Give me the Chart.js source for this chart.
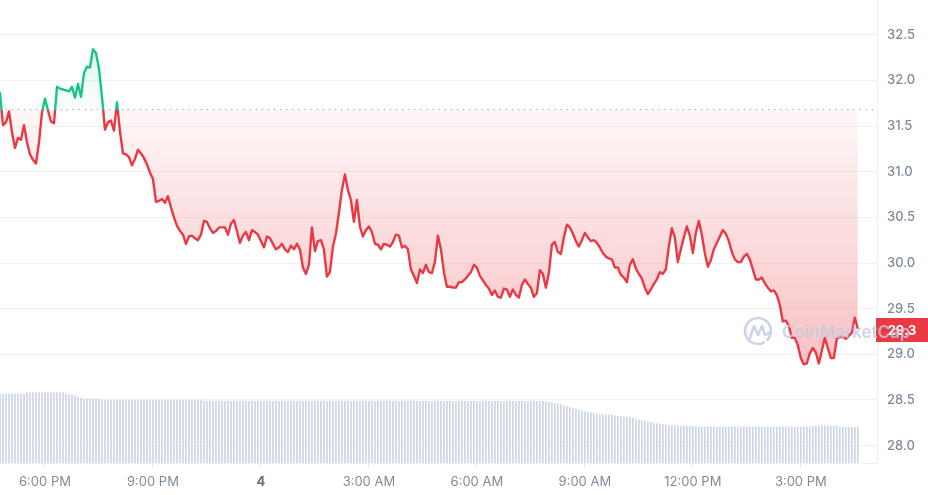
<!DOCTYPE html>
<html lang="en">
<head>
<meta charset="UTF-8">
<title>Price chart</title>
<script src="https://cdn.jsdelivr.net/npm/chart.js@4"></script>
<style>
  html, body { margin: 0; padding: 0; background: #fff; }
  #chart { display: block; }
</style>
</head>
<body>
<canvas id="chart" width="928" height="495"></canvas>
<script>
// prices every 5 minutes, first point 4:40 PM (minutes relative to 6:00 PM)
const startMinute = -80;
const stepMinutes = 5;

const priceValues = [
  31.90, 31.86, 31.51, 31.54, 31.66, 31.43, 31.26, 31.37, 31.35, 31.51,
  31.32, 31.19, 31.13, 31.09, 31.32, 31.65, 31.80, 31.67, 31.55, 31.53,
  31.93, 31.91, 31.90, 31.89, 31.88, 31.93, 31.81, 31.96, 31.82, 32.08,
  32.15, 32.14, 32.34, 32.30, 32.13, 31.82, 31.46, 31.54, 31.56, 31.45,
  31.76, 31.44, 31.20, 31.19, 31.16, 31.07, 31.14, 31.24, 31.20, 31.15,
  31.08, 30.99, 30.92, 30.67, 30.68, 30.70, 30.66, 30.73, 30.61, 30.50,
  30.41, 30.35, 30.31, 30.21, 30.29, 30.30, 30.27, 30.25, 30.31, 30.46,
  30.45, 30.38, 30.33, 30.35, 30.39, 30.39, 30.39, 30.31, 30.43, 30.47,
  30.35, 30.22, 30.30, 30.34, 30.25, 30.36, 30.34, 30.31, 30.24, 30.17,
  30.29, 30.27, 30.21, 30.15, 30.17, 30.21, 30.15, 30.12, 30.19, 30.15,
  30.21, 30.15, 29.95, 29.88, 29.98, 30.39, 30.13, 30.24, 30.25, 30.15,
  29.85, 29.90, 30.18, 30.32, 30.55, 30.80, 30.97, 30.80, 30.69, 30.45,
  30.69, 30.40, 30.29, 30.36, 30.40, 30.34, 30.21, 30.20, 30.15, 30.21,
  30.20, 30.18, 30.23, 30.31, 30.30, 30.17, 30.19, 30.15, 29.93, 29.86,
  29.78, 29.93, 29.89, 29.98, 29.90, 29.89, 30.01, 30.30, 30.15, 29.90,
  29.74, 29.74, 29.73, 29.73, 29.79, 29.79, 29.82, 29.86, 29.90, 29.98,
  29.95, 29.86, 29.81, 29.76, 29.72, 29.65, 29.70, 29.63, 29.62, 29.72,
  29.71, 29.63, 29.71, 29.65, 29.62, 29.76, 29.82, 29.77, 29.73, 29.63,
  29.67, 29.92, 29.88, 29.73, 29.89, 30.20, 30.23, 30.12, 30.10, 30.28,
  30.42, 30.39, 30.32, 30.24, 30.18, 30.25, 30.33, 30.28, 30.24, 30.25,
  30.22, 30.17, 30.11, 30.07, 30.05, 30.04, 29.95, 29.95, 29.87, 29.84,
  29.79, 29.98, 30.04, 29.94, 29.88, 29.83, 29.73, 29.66, 29.71, 29.77,
  29.82, 29.90, 29.88, 29.93, 30.18, 30.38, 30.28, 30.01, 30.15, 30.28,
  30.40, 30.30, 30.11, 30.33, 30.46, 30.31, 30.11, 29.96, 30.03, 30.15,
  30.22, 30.29, 30.36, 30.32, 30.24, 30.12, 30.04, 30.01, 30.01, 30.07,
  30.10, 30.04, 29.93, 29.82, 29.82, 29.84, 29.78, 29.73, 29.69, 29.70,
  29.65, 29.54, 29.36, 29.37, 29.31, 29.18, 29.18, 29.10, 28.96, 28.89,
  28.90, 29.01, 29.07, 29.02, 28.90, 29.04, 29.18, 29.07, 28.96, 28.96,
  29.17, 29.19, 29.19, 29.17, 29.20, 29.24, 29.40, 29.28
];

// volume (relative units), same 5 minute steps
const volumeValues = [
  14.9, 14.9, 14.9, 14.9, 14.9, 14.9, 14.9, 14.9, 14.9, 14.9,
  15.2, 15.2, 15.2, 15.2, 15.2, 15.2, 15.2, 15.2, 15.2, 15.2,
  15.2, 15.2, 15.2, 14.9, 14.8, 14.7, 14.5, 14.3, 14.0, 13.8,
  13.8, 13.8, 13.8, 13.8, 13.8, 13.6, 13.6, 13.6, 13.6, 13.6,
  13.6, 13.6, 13.6, 13.6, 13.6, 13.6, 13.6, 13.6, 13.6, 13.6,
  13.6, 13.6, 13.6, 13.6, 13.6, 13.6, 13.6, 13.6, 13.6, 13.6,
  13.6, 13.6, 13.6, 13.6, 13.6, 13.6, 13.6, 13.6, 13.6, 13.4,
  13.4, 13.4, 13.4, 13.4, 13.4, 13.4, 13.4, 13.4, 13.4, 13.4,
  13.4, 13.4, 13.4, 13.4, 13.4, 13.4, 13.4, 13.4, 13.4, 13.4,
  13.4, 13.4, 13.4, 13.4, 13.4, 13.4, 13.4, 13.4, 13.4, 13.4,
  13.4, 13.4, 13.4, 13.4, 13.4, 13.4, 13.4, 13.4, 13.4, 13.4,
  13.4, 13.4, 13.4, 13.4, 13.4, 13.4, 13.4, 13.4, 13.4, 13.4,
  13.4, 13.4, 13.4, 13.4, 13.4, 13.4, 13.4, 13.4, 13.4, 13.4,
  13.4, 13.4, 13.4, 13.4, 13.4, 13.4, 13.4, 13.4, 13.4, 13.4,
  13.4, 13.3, 13.3, 13.3, 13.3, 13.3, 13.3, 13.3, 13.3, 13.3,
  13.3, 13.3, 13.3, 13.3, 13.3, 13.3, 13.3, 13.3, 13.3, 13.3,
  13.3, 13.3, 13.3, 13.3, 13.3, 13.3, 13.3, 13.3, 13.3, 13.3,
  13.3, 13.3, 13.3, 13.3, 13.3, 13.3, 13.3, 13.3, 13.3, 13.3,
  13.3, 13.3, 13.3, 13.2, 13.1, 13.0, 12.9, 12.8, 12.6, 12.4,
  12.2, 12.0, 11.8, 11.6, 11.4, 11.2, 11.1, 11.0, 10.9, 10.8,
  10.6, 10.4, 10.4, 10.4, 10.4, 10.4, 10.2, 10.1, 10.0, 9.9,
  9.9, 9.8, 9.7, 9.5, 9.4, 9.2, 9.1, 8.9, 8.8, 8.6,
  8.5, 8.4, 8.3, 8.2, 8.1, 8.1, 8.1, 8.1, 8.0, 8.0,
  8.0, 8.0, 8.0, 7.8, 7.8, 7.8, 7.8, 7.8, 7.8, 7.8,
  7.8, 7.8, 7.8, 7.8, 7.8, 7.8, 7.8, 7.8, 7.8, 7.8,
  7.8, 7.8, 7.8, 7.8, 7.8, 7.8, 7.8, 7.8, 7.8, 7.8,
  7.8, 7.8, 7.8, 7.8, 7.8, 7.8, 7.8, 7.8, 7.8, 7.8,
  7.8, 7.8, 8.0, 8.0, 8.0, 8.0, 8.0, 8.0, 8.0, 8.0,
  8.0, 7.7, 7.7, 7.7, 7.7, 7.7, 7.7, 7.7
];

// x ticks: minutes after 6:00 PM and their labels
const tickMinutes = [0, 180, 360, 540, 720, 900, 1080, 1260];
const tickLabels = ['6:00 PM', '9:00 PM', '4', '3:00 AM', '6:00 AM', '9:00 AM', '12:00 PM', '3:00 PM'];
const dayTick = 360;
const baselinePrice = 31.68;

const red = '#ea3943';
const green = '#16c784';
const axisText = '#808a9d';

const priceData = priceValues.map((v, i) => ({ x: startMinute + i * stepMinutes, y: v }));
const volumeData = volumeValues.map((v, i) => ({ x: startMinute + i * stepMinutes, y: v }));

// vertical gradient that switches colour exactly at the baseline price
function splitGradient(chart, stops) {
    const area = chart.chartArea;
    if (!area) return null;
    const baseY = chart.scales.y.getPixelForValue(baselinePrice);
    const p = Math.min(Math.max((baseY - area.top) / (area.bottom - area.top), 0), 1);
    const g = chart.ctx.createLinearGradient(0, area.top, 0, area.bottom);
    g.addColorStop(0, stops[0]);
    g.addColorStop(p, stops[1]);
    g.addColorStop(p, stops[2]);
    g.addColorStop(1, stops[3]);
    return g;
}

const priceTag = {
    id: 'priceTag',
    afterDraw(chart) {
        const ctx = chart.ctx;
        const last = priceValues[priceValues.length - 1];
        const y = chart.scales.y.getPixelForValue(last);
        const x0 = chart.chartArea.right - 1;
        ctx.save();
        ctx.fillStyle = red;
        ctx.fillRect(x0, Math.round(y - 11), chart.width - x0, 24);
        ctx.fillStyle = '#fff';
        ctx.font = 'bold 13px Inter';
        ctx.textAlign = 'center';
        ctx.textBaseline = 'middle';
        ctx.fillText(last.toFixed(1), x0 + (chart.width - x0) / 2, y + 2);

        // watermark, drawn over everything
        const mark = 'rgba(190,202,225,0.8)';
        ctx.strokeStyle = mark;
        ctx.fillStyle = mark;
        ctx.lineWidth = 2.6;
        ctx.lineCap = 'round';
        ctx.lineJoin = 'round';
        ctx.beginPath();
        ctx.arc(758, 331, 13, 0.35 * Math.PI, 2.25 * Math.PI);
        ctx.stroke();
        ctx.beginPath();
        ctx.moveTo(750, 338);
        ctx.lineTo(754, 326);
        ctx.lineTo(758, 335);
        ctx.lineTo(762, 326);
        ctx.lineTo(765, 335);
        ctx.lineTo(769, 333);
        ctx.stroke();
        ctx.font = '600 17px Inter';
        ctx.textAlign = 'left';
        ctx.textBaseline = 'alphabetic';
        ctx.fillText('CoinMarketCap', 782, 338);
        ctx.restore();
    }
};

new Chart(document.getElementById('chart'), {
    type: 'line',
    data: {
        datasets: [
            {
                label: 'Price',
                data: priceData,
                order: 0,
                borderWidth: 2.4,
                pointRadius: 0,
                tension: 0,
                borderJoinStyle: 'round',
                borderColor: (c) => splitGradient(c.chart, [green, green, red, red]) || red,
                backgroundColor: (c) => splitGradient(c.chart, [
                    'rgba(22,199,132,0.22)', 'rgba(22,199,132,0.02)',
                    'rgba(234,57,67,0.04)', 'rgba(234,57,67,0.42)'
                ]) || 'rgba(234,57,67,0.1)',
                fill: { target: { value: baselinePrice } }
            },
            {
                label: 'Baseline',
                data: [{ x: -75, y: baselinePrice }, { x: 1387, y: baselinePrice }],
                order: 1,
                borderColor: '#9aa3b4',
                borderWidth: 1.4,
                borderDash: [0.1, 6],
                borderCapStyle: 'round',
                pointRadius: 0,
                fill: false
            },
            {
                type: 'bar',
                label: 'Volume',
                data: volumeData,
                yAxisID: 'yv',
                order: 2,
                barThickness: 1,
                backgroundColor: '#cdd4e3'
            }
        ]
    },
    options: {
        responsive: false,
        animation: false,
        layout: { padding: 0 },
        plugins: { legend: { display: false }, tooltip: { enabled: false } },
        scales: {
            x: {
                type: 'linear',
                min: -75,
                max: 1387,
                offset: false,
                afterBuildTicks: (s) => { s.ticks = tickMinutes.map((v) => ({ value: v })); },
                ticks: {
                    autoSkip: false,
                    maxRotation: 0,
                    padding: 6,
                    color: (c) => c.tick && c.tick.value === dayTick ? '#616e85' : axisText,
                    font: (c) => ({
                        family: 'Inter',
                        size: 13,
                        weight: c.tick && c.tick.value === dayTick ? '700' : '400'
                    }),
                    callback: (v) => tickLabels[tickMinutes.indexOf(v)]
                },
                grid: { offset: false, drawOnChartArea: false, drawTicks: true, tickLength: 5, color: '#e6e9ee' },
                border: { display: true, color: '#eef0f3' },
                afterFit: (s) => { s.height = 32; s.paddingLeft = 0; s.paddingRight = 0; }
            },
            y: {
                position: 'right',
                min: 27.81,
                max: 32.88,
                ticks: {
                    stepSize: 0.5,
                    includeBounds: false,
                    padding: 10,
                    color: axisText,
                    font: { family: 'Inter', size: 13, weight: '500' },
                    callback: (v) => v.toFixed(1)
                },
                grid: { color: 'rgba(0,0,0,0.055)', drawTicks: false },
                border: { display: true, color: '#eef0f3' },
                afterFit: (s) => { s.width = 51; s.paddingTop = 0; s.paddingBottom = 0; }
            },
            yv: {
                display: false,
                min: 0,
                max: 100
            }
        }
    },
    plugins: [priceTag]
});
</script>
</body>
</html>
